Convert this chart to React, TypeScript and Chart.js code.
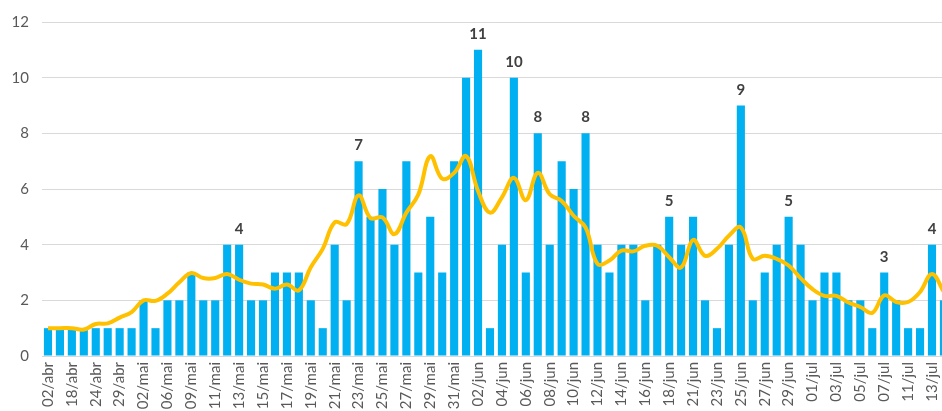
import React, { useEffect, useRef } from "react";
import { Chart, registerables } from "chart.js";

Chart.register(...registerables);

const dates = [
  "02/abr", "15/abr", "18/abr", "21/abr", "24/abr", "27/abr", "29/abr", "30/abr",
  "02/mai", "05/mai", "06/mai", "07/mai", "09/mai", "10/mai", "11/mai", "12/mai",
  "13/mai", "14/mai", "15/mai", "16/mai", "17/mai", "18/mai", "19/mai", "20/mai",
  "21/mai", "22/mai", "23/mai", "24/mai", "25/mai", "26/mai", "27/mai", "28/mai",
  "29/mai", "30/mai", "31/mai", "01/jun", "02/jun", "03/jun", "04/jun", "05/jun",
  "06/jun", "07/jun", "08/jun", "09/jun", "10/jun", "11/jun", "12/jun", "13/jun",
  "14/jun", "15/jun", "16/jun", "17/jun", "18/jun", "20/jun", "21/jun", "22/jun",
  "23/jun", "24/jun", "25/jun", "26/jun", "27/jun", "28/jun", "29/jun", "30/jun",
  "01/jul", "02/jul", "03/jul", "04/jul", "05/jul", "06/jul", "07/jul", "09/jul",
  "11/jul", "12/jul", "13/jul", "14/jul",
];

const dailyCases = [
  1, 1, 1, 1, 1, 1, 1, 1, 2, 1, 2, 2, 3, 2, 2, 4,
  4, 2, 2, 3, 3, 3, 2, 1, 4, 2, 7, 5, 6, 4, 7, 3,
  5, 3, 7, 10, 11, 1, 4, 10, 3, 8, 4, 7, 6, 8, 4, 3,
  4, 4, 2, 4, 5, 4, 5, 2, 1, 4, 9, 2, 3, 4, 5, 4,
  2, 3, 3, 2, 2, 1, 3, 2, 1, 1, 4, 2,
];

const movingAvg = [
  1.0, 1.0, 1.0, 0.95, 1.15, 1.17, 1.38, 1.58, 2.0, 1.98, 2.24, 2.65, 2.98, 2.8, 2.8, 2.95,
  2.74, 2.6, 2.57, 2.42, 2.57, 2.36, 3.19, 3.85, 4.8, 4.74, 5.77, 4.95, 4.98, 4.38, 5.15, 5.8,
  7.18, 6.37, 6.58, 7.18, 5.93, 5.15, 5.7, 6.4, 5.6, 6.58, 5.81, 5.57, 5.04, 4.62, 3.31, 3.43,
  3.79, 3.76, 3.96, 3.96, 3.55, 3.18, 4.17, 3.6, 3.85, 4.32, 4.62, 3.49, 3.6, 3.49, 3.25, 2.8,
  2.4, 2.16, 2.16, 1.92, 1.76, 1.55, 2.18, 1.94, 1.94, 2.3, 2.95, 2.3,
];

const labeledIdx = [16, 26, 36, 39, 41, 45, 52, 58, 62, 70, 74];

const yTicks = [0, 2, 4, 6, 8, 10, 12];

const FONT = "Lato, 'Open Sans', sans-serif";

const barLabelPlugin = {
  id: "barLabels",
  afterDatasetsDraw(chart: any) {
    const meta = chart.getDatasetMeta(1);
    const ctx = chart.ctx;
    ctx.save();
    ctx.font = `bold 15px ${FONT}`;
    ctx.fillStyle = "#404040";
    ctx.textAlign = "center";
    ctx.textBaseline = "alphabetic";
    labeledIdx.forEach((i) => {
      const el = meta.data[i];
      if (!el) return;
      ctx.fillText(String(dailyCases[i]), el.x, el.y - 11);
    });
    ctx.restore();
  },
};

export default function App() {
  const ref = useRef<HTMLCanvasElement | null>(null);
  useEffect(() => {
    if (!ref.current) return;
    const chart = new Chart(ref.current, {
      type: "bar",
      data: {
        labels: dates,
        datasets: [
          {
            type: "line",
            label: "Média",
            data: movingAvg,
            borderColor: "#FFC000",
            borderWidth: 4,
            pointRadius: 0,
            tension: 0.4,
            fill: false,
            order: 0,
          } as any,
          {
            type: "bar",
            label: "Casos",
            data: dailyCases,
            backgroundColor: "#00B0F0",
            barPercentage: 0.68,
            categoryPercentage: 1.0,
            order: 1,
          },
        ],
      },
      options: {
        responsive: false,
        animation: false,
        layout: { padding: { top: 14, right: 9, bottom: 0, left: 0 } },
        plugins: {
          legend: { display: false },
          tooltip: { enabled: false },
        },
        scales: {
          x: {
            offset: true,
            grid: { display: false, drawTicks: false },
            border: { display: true, color: "#D9D9D9", width: 1 },
            ticks: {
              autoSkip: false,
              maxRotation: 90,
              minRotation: 90,
              padding: 6,
              color: "#595959",
              font: { family: FONT, size: 15 },
              callback: (_v: any, i: number) => (i % 2 === 0 ? dates[i] : ""),
            },
            afterFit: (scale: any) => {
              scale.height = 84;
            },
          },
          y: {
            min: 0,
            max: 12,
            afterBuildTicks: (scale: any) => {
              scale.ticks = yTicks.map((v) => ({ value: v }));
            },
            grid: { color: "#D9D9D9", drawTicks: false },
            border: { display: false },
            ticks: {
              padding: 13,
              color: "#595959",
              font: { family: FONT, size: 15 },
            },
            afterFit: (scale: any) => {
              scale.width = 42;
            },
          },
        },
      },
      plugins: [barLabelPlugin],
    });
    return () => chart.destroy();
  }, []);

  return (
    <div
      style={{
        position: "fixed",
        left: 0,
        top: 0,
        width: 942,
        height: 411,
        overflow: "hidden",
        background: "#ffffff",
      }}
    >
      <canvas ref={ref} width={968} height={440} style={{ width: 968, height: 440, display: "block" }} />
    </div>
  );
}
